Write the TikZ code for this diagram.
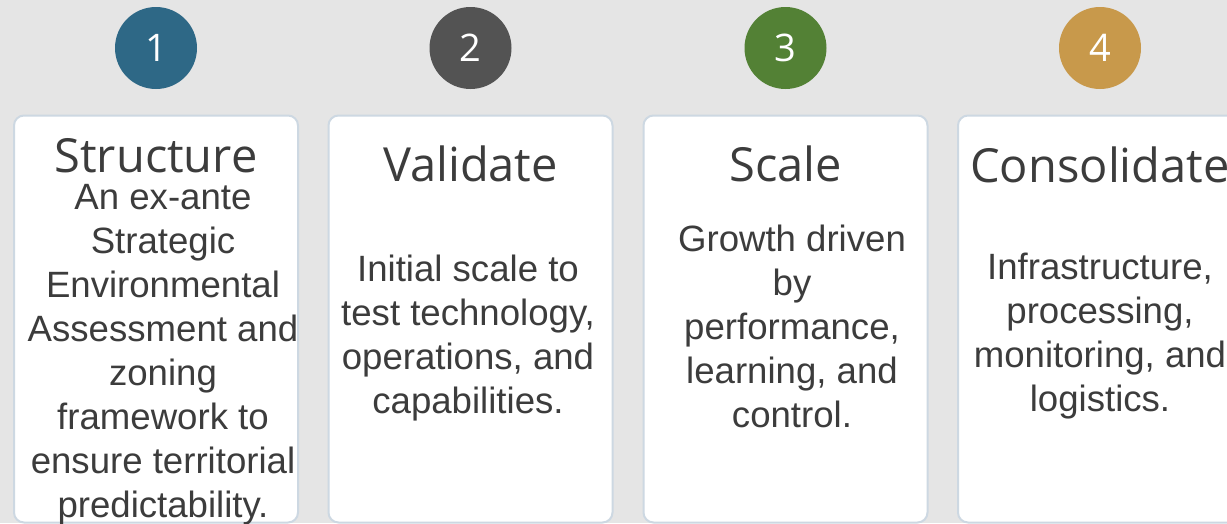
\documentclass[tikz,border=0pt]{standalone}
\usepackage{fontspec}
\setmainfont{Liberation Sans}
\newfontfamily\headfont{Open Sans}
\definecolor{pagebg}{HTML}{E5E5E5}
\definecolor{cardline}{HTML}{CDD8E2}
\definecolor{inkgray}{HTML}{3C3C3C}
\definecolor{stepblue}{HTML}{2E6886}
\definecolor{stepgray}{HTML}{535353}
\definecolor{stepgreen}{HTML}{538135}
\definecolor{stepgold}{HTML}{C8994B}
\tikzset{
  card/.style={draw=cardline, line width=2pt, fill=white, rounded corners=10pt,
    minimum width=284pt, minimum height=407pt, inner sep=0pt},
  numdot/.style={circle, minimum size=82pt, inner sep=0pt, text=white,
    font=\headfont\fontsize{38}{38}\selectfont},
  title/.style={anchor=base, text=inkgray, inner sep=0pt,
    font=\headfont\fontsize{47}{47}\selectfont},
  body/.style={align=center, text=inkgray, inner sep=0pt,
    font=\fontsize{36.6}{44}\selectfont}
}
\begin{document}
\begin{tikzpicture}[x=1pt, y=-1pt]
  \useasboundingbox (0,0) rectangle (1227,523);
  \clip (0,0) rectangle (1227,523);
  \fill[pagebg] (0,0) rectangle (1227,523);

  \foreach \i/\x/\c in {1/156/stepblue, 2/470.5/stepgray, 3/785.5/stepgreen, 4/1100/stepgold} {
    \node[card] (card\i) at (\x, 319) {};
    \node[numdot, fill=\c] (num\i) at (\x, 48) {\i};
  }

  \node[title] (t1) at (156, 172) {Structure};
  \node[title] (t2) at (470.5, 181) {Validate};
  \node[title] (t3) at (785.5, 181) {Scale};
  \node[title] (t4) at (1100, 182) {Consolidate};

  \node[body] (b1) at (163, 355) {An ex-ante\\Strategic\\Environmental\\Assessment and\\zoning\\framework to\\ensure territorial\\predictability.};
  \node[body] (b2) at (468, 338) {Initial scale to\\test technology,\\operations, and\\capabilities.};
  \node[body] (b3) at (792, 326) {Growth driven\\by\\performance,\\learning, and\\control.};
  \node[body] (b4) at (1100, 336) {Infrastructure,\\processing,\\monitoring, and\\logistics.};
\end{tikzpicture}
\end{document}
